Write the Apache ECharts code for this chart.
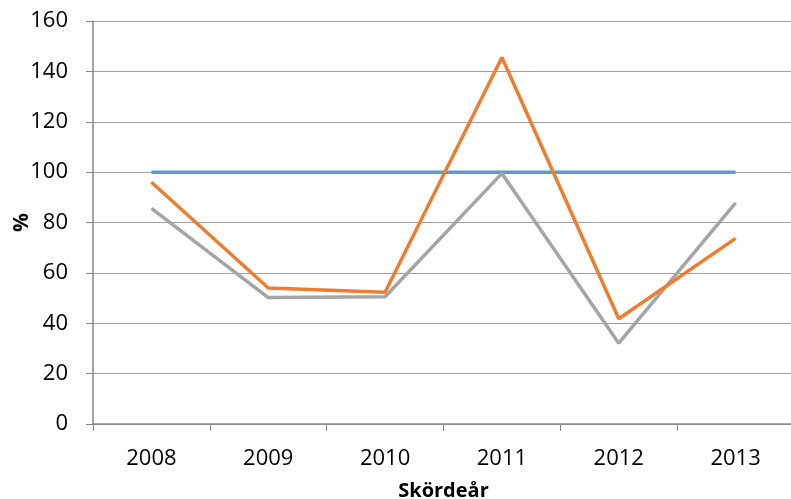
<!DOCTYPE html>
<html>
<head>
<meta charset="utf-8">
<script src="https://cdn.jsdelivr.net/npm/echarts@6/dist/echarts.min.js"></script>
<style>
html,body{margin:0;padding:0;background:#fff;}
#chart{width:791px;height:499px;}
</style>
</head>
<body>
<div id="chart"></div>
<script>
const categories = ['2008','2009','2010','2011','2012','2013'];
const seriesBlue = [100, 100, 100, 100, 100, 100];
const seriesOrange = [96, 54, 52.3, 145.5, 41.8, 73.7];
const seriesGray = [85.6, 50.2, 50.5, 99.5, 32.1, 87.8];
const yTicks = [0, 20, 40, 60, 80, 100, 120, 140, 160];

const font = 'Open Sans, Liberation Sans, sans-serif';
const chart = echarts.init(document.getElementById('chart'), null, {renderer: 'canvas'});
chart.setOption({
  animation: false,
  backgroundColor: '#ffffff',
  grid: {left: 93, right: -3, top: 21, bottom: 75, containLabel: false, outerBoundsMode: 'none'},
  xAxis: {
    type: 'category',
    data: categories,
    boundaryGap: true,
    name: 'Skördeår',
    nameLocation: 'middle',
    nameGap: 57,
    nameMoveOverlap: false,
    nameTextStyle: {fontFamily: font, fontWeight: 'bold', fontSize: 20, color: '#000'},
    axisLine: {lineStyle: {color: '#868686', width: 1.5}},
    axisTick: {show: true, alignWithLabel: false, length: 7, lineStyle: {color: '#868686'}},
    axisLabel: {fontFamily: font, fontSize: 22, color: '#000', margin: 24}
  },
  yAxis: {
    type: 'value',
    min: yTicks[0],
    max: yTicks[yTicks.length - 1],
    interval: 20,
    name: '%',
    nameLocation: 'middle',
    nameGap: 60,
    nameMoveOverlap: false,
    nameRotate: 90,
    nameTextStyle: {fontFamily: font, fontWeight: 'bold', fontSize: 21, color: '#000'},
    axisLine: {show: true, lineStyle: {color: '#868686', width: 1.5}},
    axisTick: {show: true, length: 7, lineStyle: {color: '#868686'}},
    axisLabel: {fontFamily: font, fontSize: 22, color: '#000', margin: 25},
    splitLine: {lineStyle: {color: '#a0a0a0', width: 1.2}}
  },
  series: [
    {type: 'line', data: seriesBlue, symbol: 'none', lineStyle: {color: '#5B9BD5', width: 3.5}, itemStyle: {color: '#5B9BD5'}, z: 3},
    {type: 'line', data: seriesGray, symbol: 'none', lineStyle: {color: '#A5A5A5', width: 3.5}, itemStyle: {color: '#A5A5A5'}, z: 4},
    {type: 'line', data: seriesOrange, symbol: 'none', lineStyle: {color: '#ED7D31', width: 3.5}, itemStyle: {color: '#ED7D31'}, z: 5}
  ]
});
</script>
</body>
</html>
